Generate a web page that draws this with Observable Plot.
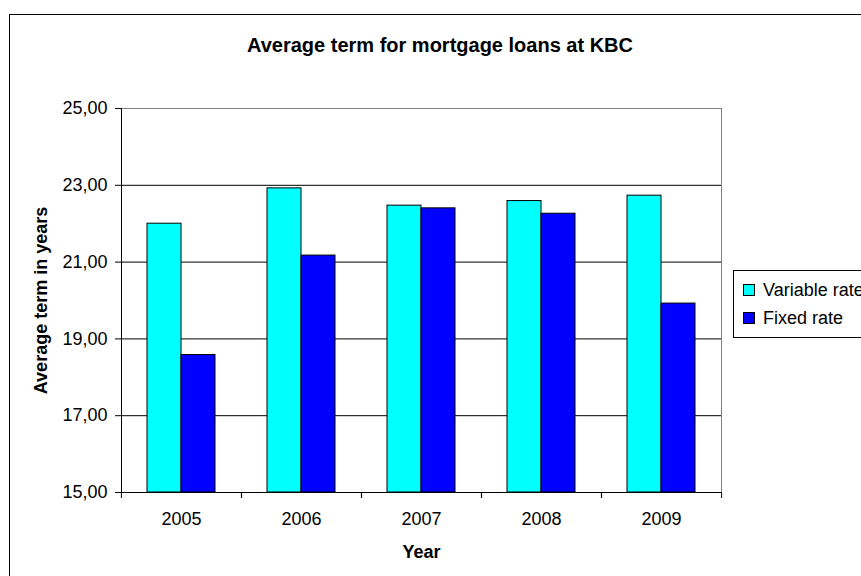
<!DOCTYPE html>
<html>
<head>
<meta charset="utf-8">
<script src="https://cdn.jsdelivr.net/npm/d3@7"></script>
<script src="https://cdn.jsdelivr.net/npm/@observablehq/plot@0.6"></script>
<style>
  html, body { margin: 0; padding: 0; background: #fff; overflow: hidden; }
  #chart { position: relative; width: 861px; height: 576px; overflow: hidden; font-family: "Liberation Sans", Arial, sans-serif; color: #000; }
  #border { position: absolute; left: 9px; top: 14px; width: 1000px; height: 700px; border: 1px solid #000; box-sizing: border-box; }
  #title { position: absolute; left: 9px; width: 862px; top: 33px; text-align: center; font-weight: bold; font-size: 20px; line-height: 24px; }
  #plot { position: absolute; left: 0; top: 0; }
  #legend { position: absolute; left: 733px; top: 270px; width: 200px; height: 68px; border: 1px solid #000; box-sizing: border-box; background: #fff; }
  .item { position: absolute; left: 9px; font-size: 18px; line-height: 20px; white-space: nowrap; }
  .swatch { display: inline-block; width: 10px; height: 10px; border: 1px solid #000; margin-right: 8px; vertical-align: 0px; }
  g[aria-label$="axis label"] text { font-weight: bold; }
</style>
</head>
<body>
<div id="chart">
  <div id="border"></div>
  <div id="plot"></div>
  <div id="title">Average term for mortgage loans at KBC</div>
  <div id="legend"></div>
</div>
<script>
const years = ["2005", "2006", "2007", "2008", "2009"];
const variableRate = [22.00, 22.92, 22.47, 22.59, 22.73];
const fixedRate = [18.58, 21.17, 22.40, 22.26, 19.92];
const seriesNames = ["Variable rate", "Fixed rate"];
const colors = ["#00FFFF", "#0000FF"];
const yTicks = [15, 17, 19, 21, 23, 25];

const data = years.flatMap((yr, i) => [
  {year: yr, series: seriesNames[0], value: variableRate[i]},
  {year: yr, series: seriesNames[1], value: fixedRate[i]}
]);

const fmt = d => d.toFixed(2).replace(".", ",");

const chart = Plot.plot({
  width: 861,
  height: 576,
  marginLeft: 120,
  marginRight: 140,
  marginTop: 108,
  marginBottom: 84,
  style: {fontFamily: "'Liberation Sans', Arial, sans-serif", fontSize: "18px", color: "#000", background: "transparent", overflow: "visible"},
  fx: {domain: years, padding: 0},
  x: {domain: seriesNames, paddingInner: 0, paddingOuter: 0.717, axis: null},
  y: {domain: [yTicks[0], yTicks[yTicks.length - 1]]},
  color: {domain: seriesNames, range: colors},
  marks: [
    Plot.gridY(yTicks.slice(1, -1), {stroke: "#000", strokeOpacity: 1}),
    Plot.ruleY([yTicks[yTicks.length - 1]], {stroke: "#808080"}),
    Plot.barY(data, {fx: "year", x: "series", y1: yTicks[0], y2: "value", fill: "series", stroke: "#000", strokeWidth: 1}),
    Plot.ruleY([yTicks[0]], {stroke: "#000"}),
    Plot.frame({anchor: "left", facetAnchor: "left", stroke: "#000"}),
    Plot.frame({anchor: "right", facetAnchor: "right", stroke: "#808080"}),
    Plot.axisY(yTicks, {tickSize: 6, tickPadding: 8, tickFormat: fmt, label: "Average term in years", labelAnchor: "center", labelArrow: "none", labelOffset: 87}),
    Plot.axisFx({anchor: "bottom", tickSize: 0, tickPadding: 20, label: "Year", labelAnchor: "center", labelArrow: "none", labelOffset: 65}),
    Plot.axisFx({anchor: "bottom", text: null, tickSize: 6, dx: -60.1, label: null}),
    Plot.axisFx({anchor: "bottom", text: null, tickSize: 6, dx: 60.1, label: null})
  ]
});
document.getElementById("plot").appendChild(chart);

const legend = document.getElementById("legend");
seriesNames.forEach((name, i) => {
  const item = document.createElement("div");
  item.className = "item";
  item.style.top = (9 + i * 28) + "px";
  const sw = document.createElement("span");
  sw.className = "swatch";
  sw.style.background = colors[i];
  item.appendChild(sw);
  item.appendChild(document.createTextNode(name));
  legend.appendChild(item);
});
</script>
</body>
</html>
